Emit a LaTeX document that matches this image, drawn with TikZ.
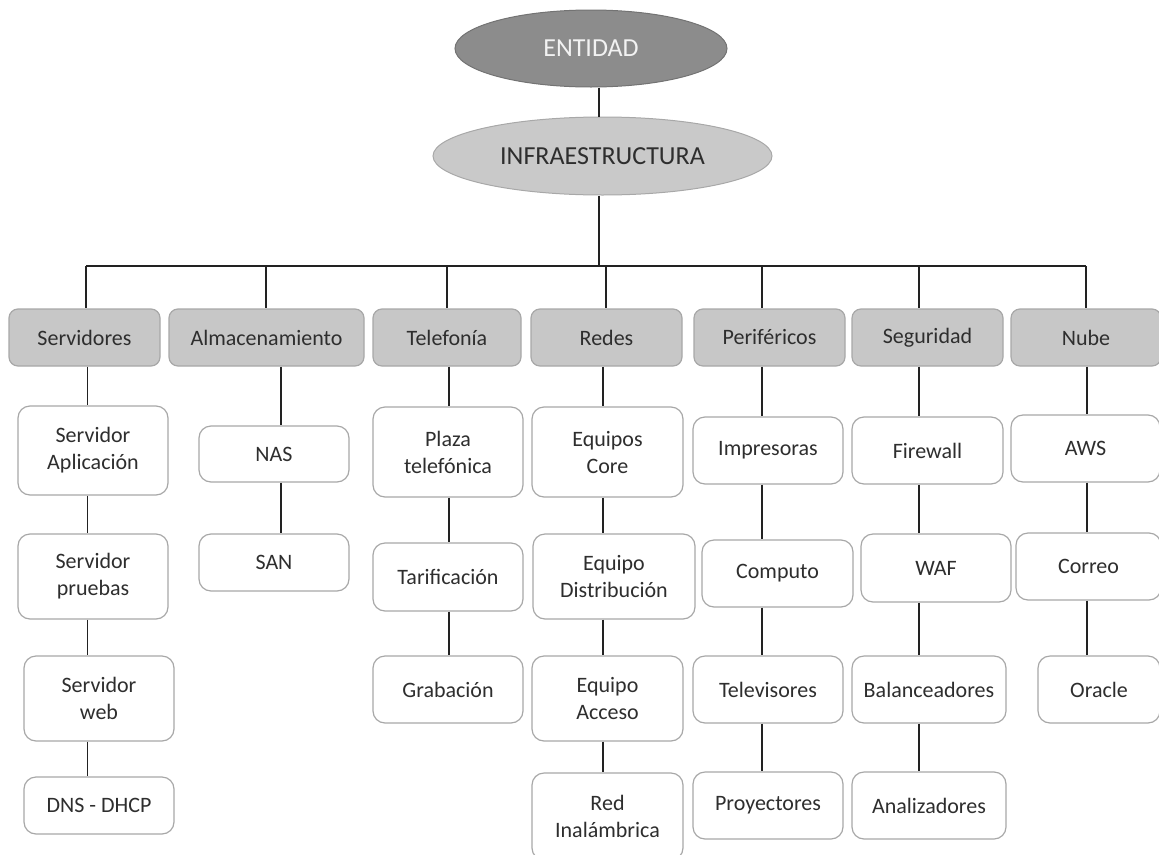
\documentclass[tikz,border=0pt]{standalone}
\usepackage{fontspec}
\setmainfont{Carlito}
\usetikzlibrary{shapes.geometric}
\definecolor{trait}{HTML}{222222}
\definecolor{bord}{HTML}{A8A8A8}
\definecolor{texte}{HTML}{2E2E2E}
\tikzset{
  lien/.style={draw=trait, line width=1.4pt},
  ovale/.style={ellipse, line width=1pt, inner sep=0pt, font=\fontsize{26}{30}\selectfont},
  categorie/.style={draw=bord, line width=1.2pt, rounded corners=9pt, fill=black!22, text=texte,
    minimum width=151pt, minimum height=57pt, inner sep=0pt, font=\fontsize{22}{27}\selectfont},
  feuille/.style={draw=bord, line width=1.2pt, rounded corners=12pt, fill=white, text=texte, align=center,
    minimum width=150pt, minimum height=67pt, inner sep=0pt, font=\fontsize{22}{27}\selectfont},
}
\begin{document}
\begin{tikzpicture}[x=1pt,y=-1pt]
  \useasboundingbox (0,0) rectangle (1159,854);
  \clip (0,0) rectangle (1159,854);
  % Racine
  \node[ovale, draw=black!55, fill=black!45, text=white!95!black, minimum width=272pt, minimum height=77pt] (ent) at (591,48.5) {ENTIDAD};
  \node[ovale, draw=bord, fill=black!21, text=texte, minimum width=339pt, minimum height=78pt] (infra) at (602.5,156) {INFRAESTRUCTURA};
  % Catégories
  \node[categorie] (srv) at (84.5,337.5) {Servidores};
  \node[categorie, minimum width=195pt] (alm) at (266.5,337.5) {Almacenamiento};
  \node[categorie, minimum width=148pt] (tel) at (447,337.5) {Telefonía};
  \node[categorie] (red) at (606.5,337.5) {Redes};
  \node[categorie] (per) at (769.5,337.5) {Periféricos};
  \node[categorie] (seg) at (927.5,337.5) {Seguridad};
  \node[categorie, minimum width=150pt] (nub) at (1086,337.5) {Nube};
  % Servidores
  \node[feuille, minimum height=89pt] (sapp) at (93,450.5) {Servidor\\Aplicación};
  \node[feuille, minimum height=85pt] (spru) at (93,576.5) {Servidor\\pruebas};
  \node[feuille, minimum height=85pt] (sweb) at (99,698.5) {Servidor\\web};
  \node[feuille, minimum height=57pt] (sdns) at (99,805.5) {DNS - DHCP};
  % Almacenamiento
  \node[feuille, minimum height=56pt] (nas) at (274,454) {NAS};
  \node[feuille, minimum height=57pt] (san) at (274,562.5) {SAN};
  % Telefonía
  \node[feuille, minimum height=90pt] (plaza) at (448,452) {Plaza\\telefónica};
  \node[feuille, minimum height=68pt] (tarif) at (448,577) {Tarificación};
  \node[feuille] (grab) at (448,689.5) {Grabación};
  % Redes
  \node[feuille, minimum width=151pt, minimum height=90pt] (core) at (607.5,452) {Equipos\\Core};
  \node[feuille, minimum width=162pt, minimum height=85pt] (dist) at (614,576.5) {Equipo\\Distribución};
  \node[feuille, minimum width=151pt, minimum height=85pt] (acc) at (607.5,698.5) {Equipo\\Acceso};
  \node[feuille, minimum width=151pt, minimum height=87pt] (inal) at (607.5,816.5) {Red\\Inalámbrica};
  % Periféricos
  \node[feuille] (impr) at (768,450.5) {Impresoras};
  \node[feuille, minimum width=151pt] (comp) at (777.5,573.5) {Computo};
  \node[feuille] (tele) at (768,689.5) {Televisores};
  \node[feuille] (proy) at (768,805.5) {Proyectores};
  % Seguridad
  \node[feuille, minimum width=151pt] (fire) at (927.5,450.5) {Firewall};
  \node[feuille, minimum height=68pt] (waf) at (936,568) {WAF};
  \node[feuille, minimum width=154pt] (bal) at (929,689.5) {Balanceadores};
  \node[feuille, minimum width=154pt] (anal) at (929,805.5) {Analizadores};
  % Nube
  \node[feuille, minimum width=149pt] (aws) at (1085.5,448.5) {AWS};
  \node[feuille, minimum width=145pt] (corr) at (1088.5,566.5) {Correo};
  \node[feuille, minimum width=122pt] (orac) at (1099,689.5) {Oracle};
  % Axes des liaisons
  \coordinate (axe) at (599,0);
  \coordinate (bus) at (0,266);
  \foreach \n/\d/\c in {srv/86/87.7, alm/266/281, tel/447/449, red/606/603, per/762/762, seg/919/919, nub/1086/1087}
  {
    \coordinate (d\n) at (\d,0);
    \coordinate (c\n) at (\c,0);
  }
  % Liaisons
  \draw[lien] (ent.south -| axe) -- (infra.north -| axe);
  \draw[lien] (infra.south -| axe) -- (bus -| axe);
  \draw[lien] (bus -| dsrv) -- (bus -| dnub);
  \foreach \n in {srv,alm,tel,red,per,seg,nub}
    \draw[lien] (bus -| d\n) -- (\n.north -| d\n);
  \foreach \col/\a/\b in {srv/srv/sapp, srv/sapp/spru, srv/spru/sweb, srv/sweb/sdns,
    alm/alm/nas, alm/nas/san, tel/tel/plaza, tel/plaza/tarif, tel/tarif/grab,
    red/red/core, red/core/dist, red/dist/acc, red/acc/inal,
    per/per/impr, per/impr/comp, per/comp/tele, per/tele/proy,
    seg/seg/fire, seg/fire/waf, seg/waf/bal, seg/bal/anal,
    nub/nub/aws, nub/aws/corr, nub/corr/orac}
    \draw[lien] (\a.south -| c\col) -- (\b.north -| c\col);
\end{tikzpicture}
\end{document}
